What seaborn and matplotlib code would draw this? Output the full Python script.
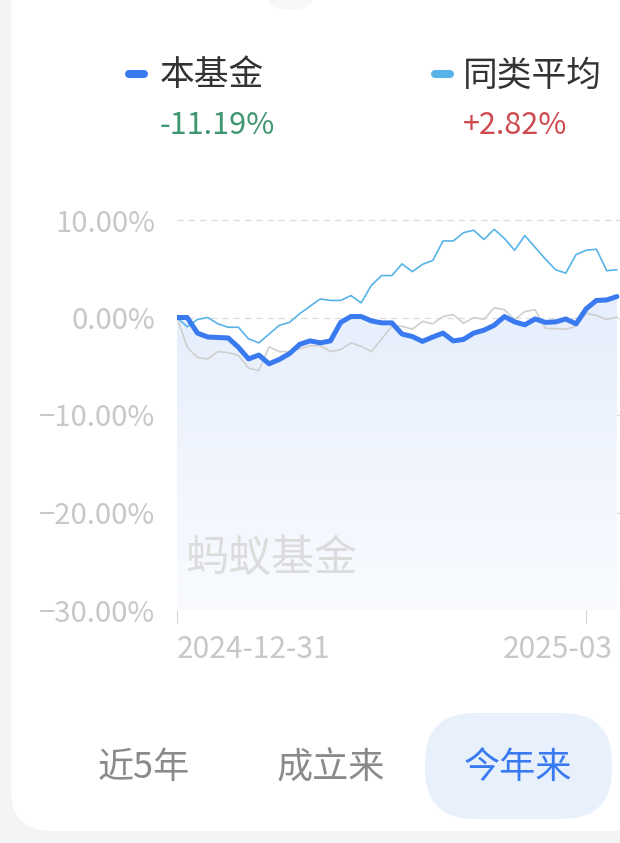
import numpy as np
import pandas as pd
import matplotlib.pyplot as plt
import seaborn as sns
from matplotlib.patches import FancyBboxPatch, Ellipse
from matplotlib.colors import LinearSegmentedColormap

# ---- values (cumulative return, %) ----
fund = [0.0, 0.0, -1.6, -2.0, -2.05, -2.1, -3.05, -4.25, -3.85, -4.75,
        -4.3, -3.7, -2.75, -2.4, -2.6, -2.4, -0.5, 0.1, 0.1, -0.35,
        -0.55, -0.55, -1.7, -1.95, -2.45, -2.0, -1.6, -2.4, -2.25, -1.6,
        -1.3, -0.8, 0.1, -0.45, -0.75, -0.15, -0.5, -0.45, -0.15, -0.65,
        0.9, 1.75, 1.8, 2.15]
peer = [0.0, -0.95, -0.2, 0.0, -0.65, -1.0, -1.0, -2.2, -2.6, -1.7,
        -0.8, -0.5, 0.4, 1.15, 1.9, 1.75, 1.75, 2.25, 1.5, 3.3,
        4.3, 4.3, 5.5, 4.7, 5.45, 5.85, 7.85, 7.85, 8.7, 8.95,
        8.0, 9.05, 8.1, 6.9, 8.4, 7.2, 6.0, 4.9, 4.55, 6.45,
        6.9, 7.0, 4.8, 4.9]
bench = [0.0, -3.05, -4.1, -4.25, -3.5, -3.6, -3.9, -5.2, -5.45, -3.0,
         -3.5, -3.5, -3.2, -2.9, -2.9, -3.5, -3.3, -2.6, -2.95, -3.5,
         -2.2, -0.9, -0.9, -1.2, -0.4, -0.65, 0.1, 0.3, -0.6, 0.0,
         -0.2, 1.0, 0.8, -0.2, 0.6, 0.8, -1.1, -1.15, -1.2, -0.9,
         0.45, 0.2, -0.2, 0.05]

x_tick_pos = [0, 40]
x_tick_labels = ['2024-12-31', '2025-03']   # second one is cut at the screen edge
y_ticks = [-30, -20, -10, 0, 10]
y_tick_labels = ['\u221230.00%', '\u221220.00%', '\u221210.00%', '0.00%', '10.00%']
legend_names = ['本基金', '同类平均']
legend_values = ['-11.19%', '+2.82%']
periods = ['近5年', '成立来', '今年来']

df = pd.DataFrame({'day': np.arange(len(fund)), 'fund': fund,
                   'peer': peer, 'bench': bench})

FUND_C = '#3a7af0'
PEER_C = '#58b4e8'
LABEL_C = '#c8c8c8'

sns.set_theme(style='white')
plt.rcParams['font.family'] = ['Noto Sans CJK SC', 'DejaVu Sans']

fig = plt.figure(figsize=(6.2, 8.43), dpi=100, facecolor='#f4f4f4')

# background layer in pixel coordinates
bg = fig.add_axes([0, 0, 1, 1])
bg.set_xlim(0, 620)
bg.set_ylim(843, 0)
bg.axis('off')
bg.add_patch(FancyBboxPatch((11, -100), 700, 931,
                            boxstyle='round,pad=0,rounding_size=40',
                            fc='white', ec='none'))
bg.add_patch(Ellipse((290, 0), 44, 20, fc='#f3f3f3', ec='none', alpha=0.6))

# legend header
for i, (name, val) in enumerate(zip(legend_names, legend_values)):
    x0 = [160, 463][i]
    mx = [125, 431][i]
    bg.plot([mx + 4, mx + 19], [74, 74], color=[FUND_C, PEER_C][i], lw=5.8,
            solid_capstyle='round')
    bg.text(x0, 76, name, fontsize=25, color='#333333', ha='left', va='center')
    bg.text(x0, 126, val, fontsize=22, color=['#3f9670', '#cf4a4f'][i],
            ha='left', va='center')

# period buttons
bg.add_patch(FancyBboxPatch((425, 713), 187, 106,
                            boxstyle='round,pad=0,rounding_size=50',
                            fc='#e8f0fc', ec='none'))
for cx, txt, col in zip([144, 331, 518], periods, ['#8a8a8a', '#8a8a8a', FUND_C]):
    bg.text(cx, 768, txt, fontsize=26, color=col, ha='center', va='center')

# chart
ax = fig.add_axes([177 / 620, (843 - 610) / 843, 443 / 620, 409.5 / 843])
ax.set_facecolor('none')

poly = ax.fill_between(df['day'], df['fund'], -30, color='none', lw=0)
cmap = LinearSegmentedColormap.from_list('fade', ['#f9fbff', '#e6eefc'])
grad = np.linspace(0, 1, 256).reshape(-1, 1)
im = ax.imshow(grad, extent=[0, len(fund) - 1, -30, max(fund)], aspect='auto',
               origin='lower', cmap=cmap, zorder=1)
im.set_clip_path(poly.get_paths()[0], transform=ax.transData)

for v in y_ticks:
    ax.axhline(v, color='#dcdcdc', lw=0.9, ls=(0, (5, 4)), zorder=0.5)

sns.lineplot(data=df, x='day', y='bench', color='#cfcfcf', lw=1.2, ax=ax, zorder=2)
sns.lineplot(data=df, x='day', y='peer', color=PEER_C, lw=1.2, ax=ax, zorder=3)
sns.lineplot(data=df, x='day', y='fund', color=FUND_C, lw=3.6, ax=ax, zorder=4)

ax.text(185, 559, '蚂蚁基金', fontsize=31, color='#dcdcdc', ha='left',
        va='center', transform=bg.transData, zorder=5)

ax.set_xlim(0, 43.3)
ax.set_ylim(-30, 12)
ax.set_xlabel('')
ax.set_ylabel('')
sns.despine(ax=ax, left=True, bottom=True)

ax.set_yticks(y_ticks)
ax.set_yticklabels(y_tick_labels)
ax.set_xticks(x_tick_pos)
ax.set_xticklabels([x_tick_labels[0], ''])
ax.tick_params(axis='y', length=0, pad=15.8, labelsize=21, labelcolor=LABEL_C)
ax.tick_params(axis='x', length=9.4, width=0.8, color='#d5d5d5', pad=8,
               labelsize=21.5, labelcolor=LABEL_C, bottom=True)
ax.get_xticklabels()[0].set_horizontalalignment('left')
# the second date label only shows its visible part, flush with the screen edge
bg.text(503, 650, x_tick_labels[1], fontsize=21.5, color=LABEL_C,
        ha='left', va='center')

fig.savefig('out.png', dpi=100, facecolor=fig.get_facecolor())
